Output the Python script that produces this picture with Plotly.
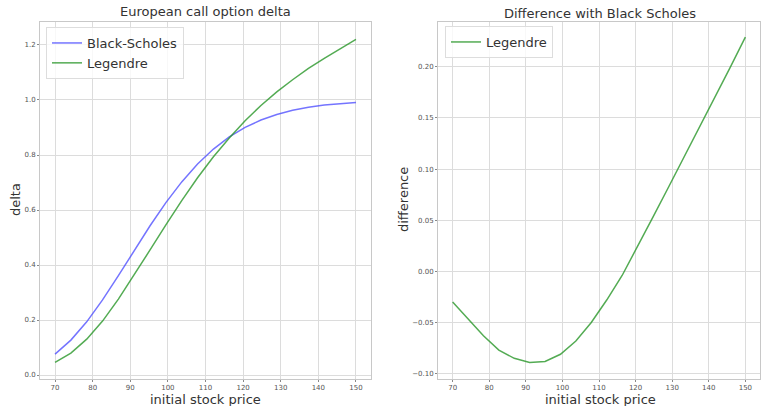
import plotly.graph_objects as go

# data
stock_price = [70.0, 74.21, 78.42, 82.63, 86.84, 91.05, 95.26, 99.47, 103.68, 107.89,
               112.11, 116.32, 120.53, 124.74, 128.95, 133.16, 137.37, 141.58, 145.79, 150.0]
delta_bs = [0.0759, 0.1269, 0.1934, 0.2730, 0.3611, 0.4527, 0.5427, 0.6268, 0.7022, 0.7672,
            0.8216, 0.8656, 0.9004, 0.9272, 0.9475, 0.9626, 0.9737, 0.9816, 0.9873, 0.9913]
difference = [-0.030, -0.047, -0.063, -0.077, -0.085, -0.089, -0.088, -0.081, -0.068, -0.050,
              -0.028, -0.004, 0.024, 0.053, 0.082, 0.111, 0.141, 0.170, 0.199, 0.229]
delta_legendre = [round(b + d, 4) for b, d in zip(delta_bs, difference)]

x_ticks = [70, 80, 90, 100, 110, 120, 130, 140, 150]
y_ticks_left = [0.0, 0.2, 0.4, 0.6, 0.8, 1.0, 1.2]
y_ticks_right = [-0.10, -0.05, 0.00, 0.05, 0.10, 0.15, 0.20]

W, H = 761, 406
BLUE = "rgba(70,70,255,0.75)"
GREEN = "rgba(40,150,40,0.8)"
FONT = "DejaVu Sans"

fig = go.Figure()
fig.add_trace(go.Scatter(x=stock_price, y=delta_bs, mode="lines", name="Black-Scholes",
                         line=dict(color=BLUE, width=1.5), xaxis="x", yaxis="y", legend="legend"))
fig.add_trace(go.Scatter(x=stock_price, y=delta_legendre, mode="lines", name="Legendre",
                         line=dict(color=GREEN, width=1.5), xaxis="x", yaxis="y", legend="legend"))
fig.add_trace(go.Scatter(x=stock_price, y=difference, mode="lines", name="Legendre",
                         line=dict(color=GREEN, width=1.5), xaxis="x2", yaxis="y2", legend="legend2"))

def px_x(p):
    return p / W

def px_y(p):
    return 1 - p / H

axis_common = dict(
    showgrid=True, gridcolor="#dcdcdc", gridwidth=1,
    showline=True, linecolor="#c8c8c8", linewidth=1, mirror=True,
    ticks="outside", ticklen=2, tickcolor="#888", tickwidth=1,
    tickfont=dict(family=FONT, size=7, color="#555"),
    zeroline=False,
)

left_dom = [px_x(40), px_x(371)]
right_dom = [px_x(438), px_x(760)]
y_dom = [px_y(379), px_y(22)]

fig.update_layout(
    width=W, height=H,
    margin=dict(l=0, r=0, t=0, b=0),
    paper_bgcolor="white", plot_bgcolor="white",
    font=dict(family=FONT, color="#333"),
    xaxis=dict(domain=left_dom, range=[66, 154], tickvals=x_ticks, anchor="y", **axis_common),
    yaxis=dict(domain=y_dom, range=[-0.0145, 1.2836], tickvals=y_ticks_left,
               tickformat=".1f", anchor="x", **axis_common),
    xaxis2=dict(domain=right_dom, range=[66, 154], tickvals=x_ticks, anchor="y2", **axis_common),
    yaxis2=dict(domain=y_dom, range=[-0.1052, 0.2438], tickvals=y_ticks_right,
                tickformat=".2f", anchor="x2", **axis_common),
    legend=dict(x=px_x(46), y=px_y(27), xanchor="left", yanchor="top",
                bgcolor="rgba(255,255,255,0.8)", bordercolor="#dddddd", borderwidth=1,
                font=dict(family=FONT, size=13, color="#333"), tracegroupgap=0),
    legend2=dict(x=px_x(445), y=px_y(26), xanchor="left", yanchor="top",
                 bgcolor="rgba(255,255,255,0.8)", bordercolor="#dddddd", borderwidth=1,
                 font=dict(family=FONT, size=13, color="#333")),
    showlegend=True,
)

annos = [
    dict(text="European call option delta", x=px_x(205), y=px_y(12), size=13, angle=0),
    dict(text="Difference with Black Scholes", x=px_x(600), y=px_y(13), size=13, angle=0),
    dict(text="initial stock price", x=px_x(205), y=px_y(399), size=13, angle=0),
    dict(text="initial stock price", x=px_x(600), y=px_y(399), size=13, angle=0),
    dict(text="delta", x=px_x(15), y=px_y(200), size=13, angle=-90),
    dict(text="difference", x=px_x(403), y=px_y(200), size=13, angle=-90),
]
for a in annos:
    fig.add_annotation(text=a["text"], x=a["x"], y=a["y"], xref="paper", yref="paper",
                       xanchor="center", yanchor="middle", showarrow=False, textangle=a["angle"],
                       font=dict(family=FONT, size=a["size"], color="#333"))

fig.write_html("out.html")
